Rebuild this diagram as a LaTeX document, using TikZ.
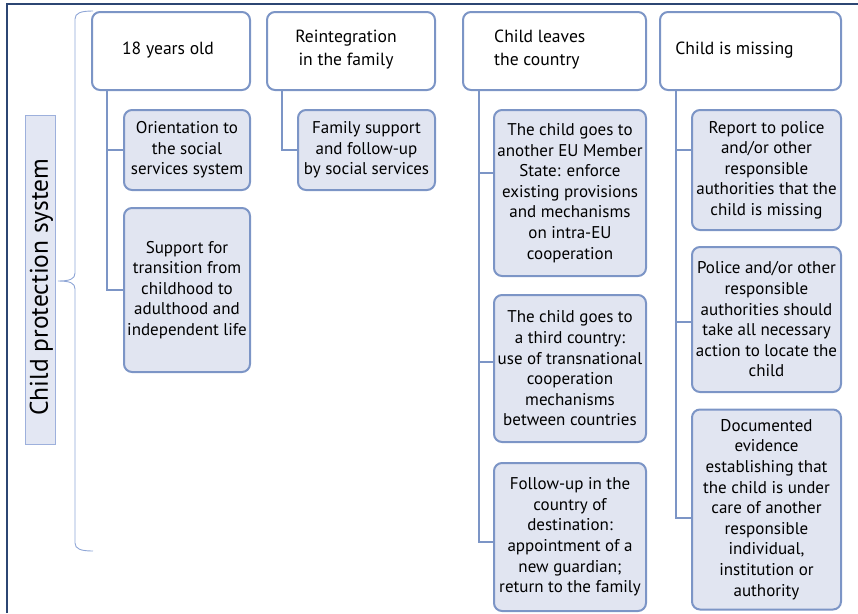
\documentclass[tikz,border=0pt]{standalone}
\usepackage{fontspec}
\setmainfont{PT Sans}
\usetikzlibrary{calc}
\definecolor{bd}{HTML}{7C95C6}
\definecolor{subfill}{HTML}{E1E5F1}
\definecolor{frm}{HTML}{2C4673}
\definecolor{brc}{HTML}{8FA6D6}
\definecolor{lblfill}{HTML}{E3E7F3}
\definecolor{lblbd}{HTML}{9DB0DC}
\tikzset{
  hdr/.style={draw=bd, line width=2pt, rounded corners=8pt, fill=white, inner sep=0pt},
  sub/.style={draw=bd, line width=2pt, rounded corners=8pt, fill=subfill, align=center,
    font=\fontsize{17}{20.6}\selectfont, inner sep=0pt},
  htxt/.style={align=center, font=\fontsize{17.6}{23}\selectfont, inner sep=0pt},
  conn/.style={draw=bd, line width=2pt},
  lbl/.style={draw=lblbd, line width=1pt, fill=lblfill, inner sep=0pt,
    font=\fontsize{25.5}{28}\selectfont},
  bracestyle/.style={draw=brc, line width=0.9pt},
  framestyle/.style={draw=frm, line width=1.6pt}
}
\begin{document}
\begin{tikzpicture}[x=1pt,y=-1pt]
\useasboundingbox (0,0) rectangle (858,613);
% outer frame
\draw[framestyle] (7,613) -- (7,4) -- (858,4);
% side label
\node[lbl, minimum width=329pt, minimum height=30pt, rotate=90] (lab) at (40,279.5) {};
\node[rotate=90, inner sep=0pt, font=\fontsize{25.5}{28}\selectfont] (labtxt) at (41.5,287) {Child protection system};
% brace
\draw[bracestyle] (93,11) .. controls (81,11) and (75,13) .. (75,19) -- (75,273)
  .. controls (75,279) and (70,281) .. (58,281)
  .. controls (70,281) and (75,283) .. (75,289) -- (75,543)
  .. controls (75,549) and (81,551) .. (93,551);
% headers
\node[hdr, minimum width=158pt, minimum height=78pt] (h1) at (171,51) {};
\node[hdr, minimum width=168pt, minimum height=78pt] (h2) at (351,51) {};
\node[hdr, minimum width=183pt, minimum height=78pt] (h3) at (554.5,51) {};
\node[hdr, minimum width=181pt, minimum height=78pt] (h4) at (750.5,51) {};
\node[htxt] (t1) at (168,50) {18 years old};
\node[htxt] (t2) at (346,50) {Reintegration\\in the family};
\node[htxt, align=left, anchor=west] (t3) at (494,50) {Child leaves\\the country};
\node[htxt] (t4) at (734.5,50) {Child is missing};
% sub boxes
\node[sub, minimum width=126pt, minimum height=80pt] (s11) at (187,150) {Orientation to\\the social\\services system};
\node[sub, minimum width=126pt, minimum height=164pt] (s12) at (187,290) {Support for\\transition from\\childhood to\\adulthood and\\independent life};
\node[sub, minimum width=137pt, minimum height=80pt] (s21) at (366.5,150) {Family support\\and follow-up\\by social services};
\node[sub, minimum width=152pt, minimum height=166pt] (s31) at (570,193) {The child goes to\\another EU Member\\State: enforce\\existing provisions\\and mechanisms\\on intra-EU\\cooperation};
\node[sub, minimum width=152pt, minimum height=147pt] (s32) at (570,368.5) {The child goes to\\a third country:\\use of transnational\\cooperation\\mechanisms\\between countries};
\node[sub, minimum width=152pt, minimum height=148pt] (s33) at (570,537) {Follow-up in the\\country of\\destination:\\appointment of a\\new guardian;\\return to the family};
\node[sub, minimum width=149pt, minimum height=120pt] (s41) at (766.5,170) {Report to police\\and/or other\\responsible\\authorities that the\\child is missing};
\node[sub, minimum width=149pt, minimum height=145pt] (s42) at (766.5,319.5) {Police and/or other\\responsible\\authorities should\\take all necessary\\action to locate the\\child};
\node[sub, minimum width=149pt, minimum height=200pt] (s43) at (766.5,509.5) {Documented\\evidence\\establishing that\\the child is under\\care of another\\responsible\\individual,\\institution or\\authority};
% connectors
\draw[conn] ($(h1.south west)+(16,0)$) |- (s11.west);
\draw[conn] ($(h1.south west)+(16,0)$) |- (s12.west);
\draw[conn] ($(h2.south west)+(16,0)$) |- (s21.west);
\draw[conn] ($(h3.south west)+(17,0)$) |- ([yshift=20pt]s31.west);
\draw[conn] ($(h3.south west)+(17,0)$) |- ([yshift=6.5pt]s32.west);
\draw[conn] ($(h3.south west)+(17,0)$) |- ([yshift=-5pt]s33.west);
\draw[conn] ($(h4.south west)+(17,0)$) |- ([yshift=20pt]s41.west);
\draw[conn] ($(h4.south west)+(17,0)$) |- ([yshift=-2.5pt]s42.west);
\draw[conn] ($(h4.south west)+(17,0)$) |- ([yshift=-8.5pt]s43.west);
\end{tikzpicture}
\end{document}
